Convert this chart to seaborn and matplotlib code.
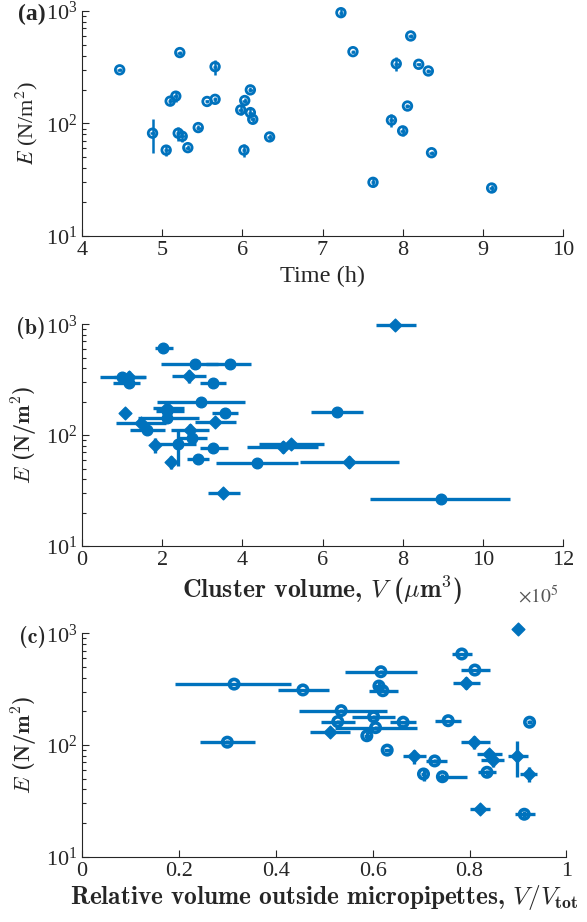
import numpy as np
import pandas as pd
import matplotlib
matplotlib.use('Agg')
import matplotlib.pyplot as plt
import seaborn as sns
from matplotlib.ticker import LogLocator, NullFormatter, LogFormatterMathtext, FixedLocator

# ---- panel (a): modulus vs time ----
time_h = [4.47, 4.88, 5.05, 5.10, 5.17, 5.20, 5.22, 5.25, 5.32, 5.45, 5.56, 5.66, 5.66, 5.98, 6.02, 6.03,
          6.10, 6.10, 6.13, 6.34, 7.23, 7.38, 7.63, 7.86, 7.92, 8.00, 8.06, 8.10, 8.20, 8.32, 8.36, 9.11]
E_a = [300, 82, 58, 158, 175, 82, 427, 77, 61, 92, 157, 320, 164, 132, 58, 160,
       199, 125, 109, 76, 966, 435, 30, 107, 340, 86, 143, 600, 336, 293, 55, 26.7]
E_a_err = [10, 27, 7, 12, 20, 12, 18, 8, 3, 5, 6, 50, 8, 12, 8, 8,
           10, 12, 6, 4, 80, 15, 3, 14, 50, 9, 6, 25, 12, 10, 2, 1.5]
time_err = [0.03] * len(time_h)

# ---- panel (b): modulus vs cluster volume (x1e5 um^3) ----
volume = [2.02, 2.81, 3.68, 1.00, 1.17, 1.17, 2.67, 3.27, 2.96, 1.07, 2.12, 2.12, 2.13, 3.56, 3.33, 1.48,
          1.61, 2.69, 2.75, 1.81, 2.39, 3.28, 2.89, 2.21, 4.36, 5.01, 5.22, 3.52, 7.82, 6.36, 6.66, 8.95]
volume_lo = [1.82, 1.98, 3.10, 0.44, 0.80, 0.77, 2.25, 2.94, 1.86, 1.00, 1.78, 1.85, 1.40, 3.25, 2.81, 0.86,
             1.19, 2.23, 2.39, 1.70, 1.85, 2.94, 2.63, 2.10, 3.35, 4.12, 4.41, 3.14, 7.33, 5.72, 5.43, 7.19]
volume_hi = [2.27, 3.40, 4.22, 1.56, 1.60, 1.44, 3.10, 3.60, 4.06, 1.14, 2.54, 2.55, 2.92, 3.89, 3.85, 2.10,
             2.06, 3.17, 3.12, 1.92, 2.85, 3.64, 3.18, 2.32, 5.39, 5.89, 6.04, 3.93, 8.33, 7.00, 7.90, 10.69]
E_b = [607, 435, 438, 336, 333, 297, 341, 297, 200, 159, 175, 165, 143, 159, 132, 128,
       111, 111, 94, 81.5, 83, 77, 60.5, 57.5, 55.6, 78.5, 84, 30.3, 980, 161, 57.5, 26.7]
E_b_err = [15, 10, 10, 10, 45, 10, 45, 8, 6, 15, 22, 6, 5, 6, 12, 10,
           5, 15, 4, 12, 30, 4, 3, 8, 2, 10, 8, 2, 90, 5, 7, 1.5]
shape_b = ['o', 'o', 'o', 'o', 'd', 'o', 'd', 'o', 'o', 'd', 'd', 'o', 'o', 'o', 'd', 'd',
           'o', 'd', 'o', 'd', 'o', 'o', 'o', 'd', 'o', 'd', 'd', 'd', 'd', 'o', 'd', 'o']

# ---- panel (c): modulus vs relative volume outside micropipettes ----
rel_vol = [0.314, 0.300, 0.456, 0.617, 0.613, 0.621, 0.535, 0.602, 0.528, 0.663, 0.606, 0.511, 0.588, 0.630,
           0.756, 0.784, 0.811, 0.793, 0.900, 0.924, 0.809, 0.840, 0.848, 0.899, 0.923, 0.836, 0.685, 0.728,
           0.705, 0.744, 0.821, 0.913]
rel_lo = [0.191, 0.243, 0.405, 0.542, 0.605, 0.593, 0.449, 0.558, 0.494, 0.635, 0.522, 0.471, 0.582, 0.624,
          0.728, 0.763, 0.782, 0.766, 0.895, 0.918, 0.782, 0.816, 0.824, 0.879, 0.905, 0.818, 0.663, 0.710,
          0.700, 0.735, 0.800, 0.893]
rel_hi = [0.431, 0.358, 0.510, 0.692, 0.621, 0.652, 0.630, 0.647, 0.563, 0.690, 0.692, 0.553, 0.594, 0.636,
          0.783, 0.806, 0.842, 0.821, 0.905, 0.930, 0.842, 0.868, 0.872, 0.920, 0.940, 0.855, 0.710, 0.754,
          0.710, 0.794, 0.842, 0.935]
E_c = [351, 106, 311, 453, 337, 306, 203, 179, 162, 160, 143, 130, 121, 90,
       165, 653, 469, 361, 1090, 160, 106, 83, 73, 80, 55, 57, 79, 72,
       55, 52, 27, 24]
E_c_err = [10, 4, 8, 12, 30, 8, 6, 8, 6, 5, 6, 10, 10, 3,
           4, 15, 12, 45, 90, 6, 14, 10, 9, 28, 8, 3, 12, 3,
           7, 3, 2, 1.5]
shape_c = ['o', 'o', 'o', 'o', 'o', 'o', 'o', 'o', 'o', 'o', 'o', 'd', 'o', 'o',
           'o', 'o', 'o', 'd', 'd', 'o', 'd', 'd', 'd', 'd', 'd', 'o', 'd', 'o',
           'o', 'o', 'd', 'o']

blue = '#0072BD'
dark = '#262626'

sns.set_theme(style='ticks')
plt.rcParams['font.family'] = ['Liberation Serif', 'DejaVu Serif']
plt.rcParams['mathtext.fontset'] = 'stix'
plt.rcParams['axes.edgecolor'] = dark
plt.rcParams['axes.linewidth'] = 0.8

fig = plt.figure(figsize=(5.87, 9.22), dpi=100)
W, H = 587.0, 922.0
ax_a = fig.add_axes([82 / W, 1 - 236 / H, 481 / W, 225 / H])
ax_b = fig.add_axes([82 / W, 1 - 546 / H, 481 / W, 221.7 / H])
ax_c = fig.add_axes([82 / W, 1 - 856.7 / H, 484.4 / W, 223.4 / H])


def style_axis(ax, xlim, xticks, xticklabels):
    ax.set_yscale('log')
    ax.set_ylim(10, 1000)
    ax.set_xlim(*xlim)
    ax.yaxis.set_major_locator(LogLocator(base=10, numticks=10))
    ax.yaxis.set_major_formatter(LogFormatterMathtext())
    ax.yaxis.set_minor_locator(LogLocator(base=10, subs=np.arange(2, 10), numticks=10))
    ax.yaxis.set_minor_formatter(NullFormatter())
    ax.xaxis.set_major_locator(FixedLocator(xticks))
    ax.set_xticklabels(xticklabels)
    sns.despine(ax=ax)
    ax.tick_params(which='both', direction='in', colors=dark, labelsize=16, width=0.8)
    ax.tick_params(which='major', length=5)
    ax.tick_params(which='minor', length=3)
    ax.set_facecolor('none')


# (a)
ax_a.errorbar(time_h, E_a, xerr=time_err, yerr=E_a_err, fmt='none', ecolor=blue, elinewidth=1.8,
              capsize=0, zorder=2, clip_on=False)
df_a = pd.DataFrame({'t': time_h, 'E': E_a})
sns.scatterplot(data=df_a, x='t', y='E', marker='o', s=38, facecolor='none', edgecolor=blue,
                linewidth=2.0, ax=ax_a, zorder=3, legend=False, clip_on=False)
style_axis(ax_a, (4, 10), range(4, 11), [str(v) for v in range(4, 11)])
ax_a.set_xlabel('Time (h)', fontsize=17.5, color=dark, labelpad=4)
ax_a.set_ylabel('$E$ (N/m$^2$)', fontsize=16, color=dark, labelpad=4)
ax_a.text(-0.075, 0.985, '(a)', transform=ax_a.transAxes, ha='right', va='center',
          fontsize=17, fontweight='bold', color=dark)

# (b)
df_b = pd.DataFrame({'V': volume, 'E': E_b, 'shape': shape_b})
xerr_b = [np.array(volume) - np.array(volume_lo), np.array(volume_hi) - np.array(volume)]
ax_b.errorbar(volume, E_b, xerr=xerr_b, yerr=E_b_err, fmt='none', ecolor=blue, elinewidth=2.4,
              capsize=0, zorder=2, clip_on=False)
sns.scatterplot(data=df_b[df_b['shape'] == 'o'], x='V', y='E', marker='o', s=58, color=blue, edgecolor=blue,
                linewidth=1, ax=ax_b, zorder=3, legend=False, clip_on=False)
sns.scatterplot(data=df_b[df_b['shape'] == 'd'], x='V', y='E', marker='D', s=42, color=blue, edgecolor=blue,
                linewidth=1, ax=ax_b, zorder=3, legend=False, clip_on=False)
style_axis(ax_b, (0, 12), range(0, 13, 2), [str(v) for v in range(0, 13, 2)])
ax_b.set_xlabel(r'Cluster volume, $V$ ($\mu$m$^{\mathbf{3}}$)', fontsize=18.5, color=dark, labelpad=3,
                family='cmb10', math_fontfamily='cm')
ax_b.set_ylabel(r'$E$ (N/m$^{\mathbf{2}}$)', fontsize=16, color=dark, labelpad=4,
                family='cmb10', math_fontfamily='cm')
ax_b.text(-0.075, 0.985, '(b)', transform=ax_b.transAxes, ha='right', va='center',
          fontsize=16, family='cmb10', color=dark)
ax_b.text(0.99, -0.225, r'$\times10^5$', transform=ax_b.transAxes, ha='right', va='center',
          fontsize=14, color='#555555')

# (c)
df_c = pd.DataFrame({'r': rel_vol, 'E': E_c, 'shape': shape_c})
xerr_c = [np.array(rel_vol) - np.array(rel_lo), np.array(rel_hi) - np.array(rel_vol)]
ax_c.errorbar(rel_vol, E_c, xerr=xerr_c, yerr=E_c_err, fmt='none', ecolor=blue, elinewidth=2.4,
              capsize=0, zorder=2, clip_on=False)
sns.scatterplot(data=df_c[df_c['shape'] == 'o'], x='r', y='E', marker='o', s=46, facecolor='none',
                edgecolor=blue, linewidth=2.6, ax=ax_c, zorder=3, legend=False, clip_on=False)
sns.scatterplot(data=df_c[df_c['shape'] == 'd'], x='r', y='E', marker='D', s=42, color=blue, edgecolor=blue,
                linewidth=1, ax=ax_c, zorder=3, legend=False, clip_on=False)
style_axis(ax_c, (0, 1), [0, 0.2, 0.4, 0.6, 0.8, 1], ['0', '0.2', '0.4', '0.6', '0.8', '1'])
ax_c.set_xlabel(r'Relative volume outside micropipettes, $V/V_{\mathbf{tot}}$', fontsize=18.2, color=dark,
                labelpad=2, family='cmb10', math_fontfamily='cm')
ax_c.set_ylabel(r'$E$ (N/m$^{\mathbf{2}}$)', fontsize=16, color=dark, labelpad=4,
                family='cmb10', math_fontfamily='cm')
ax_c.text(-0.075, 0.985, '(c)', transform=ax_c.transAxes, ha='right', va='center',
          fontsize=16, family='cmb10', color=dark)

fig.savefig('out.png', dpi=100)
